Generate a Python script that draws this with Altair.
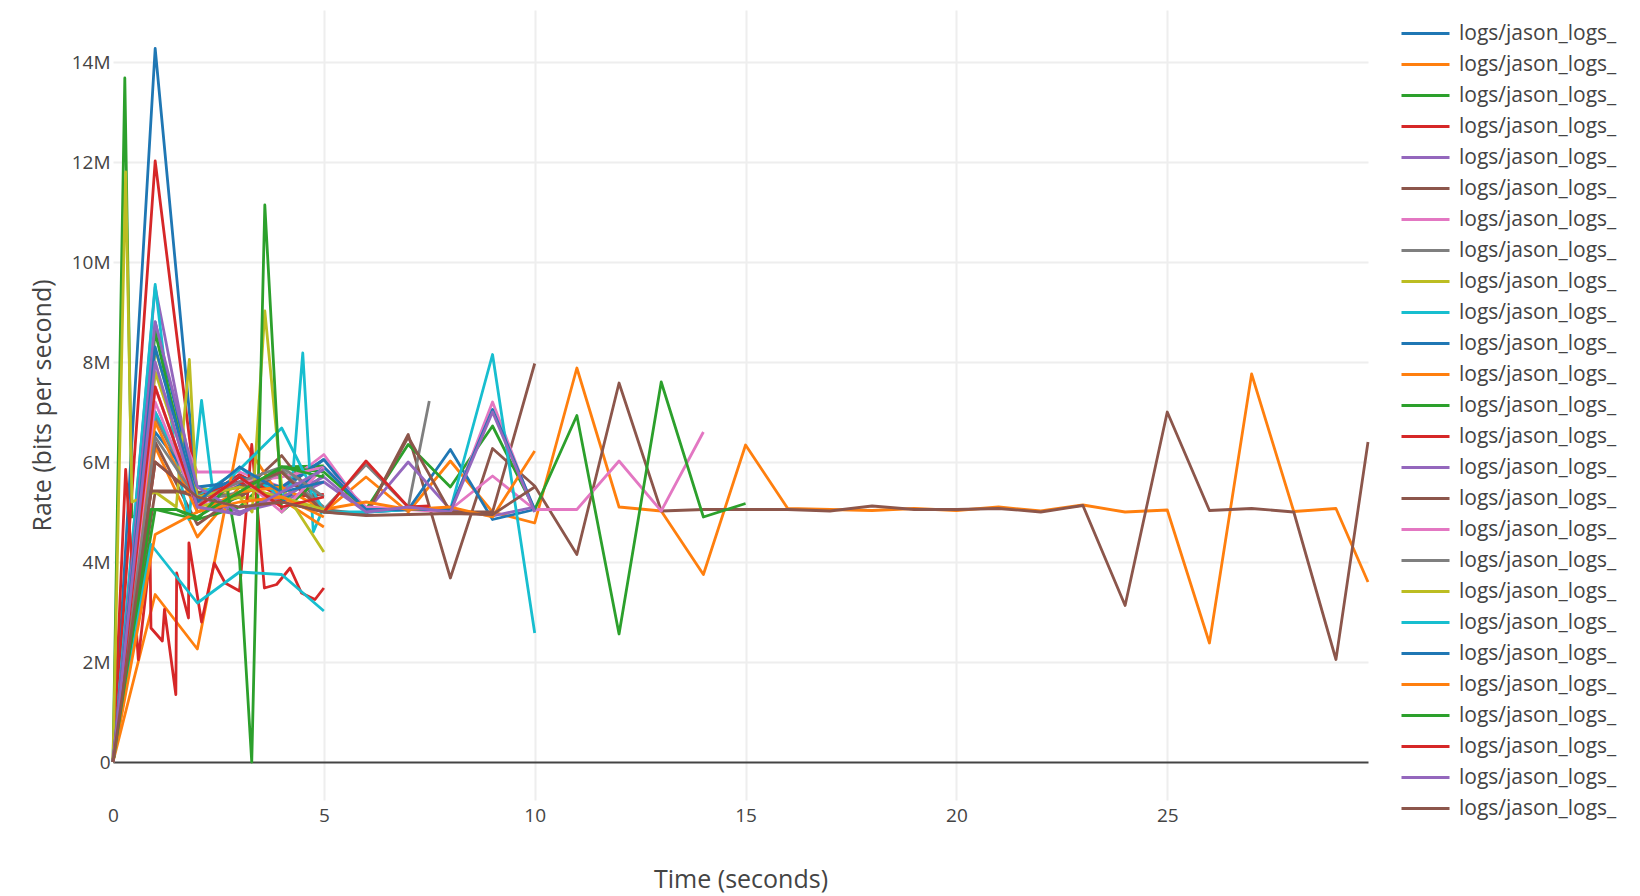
import altair as alt
import pandas as pd

# ---------------- data (rates in Mbit/s, time in seconds) ----------------
PALETTE = ["#1f77b4", "#ff7f0e", "#2ca02c", "#d62728", "#9467bd",
           "#8c564b", "#e377c2", "#7f7f7f", "#bcbd22", "#17becf"]

T5 = [0, 1, 2, 3, 4, 5]
T75 = [0, 1, 2, 3, 4, 5, 6, 7, 7.5]
T10 = [0, 1, 2, 3, 4, 5, 6, 7, 8, 9, 10]
T14 = [0, 1, 2, 3, 4, 5, 6, 7, 8, 9, 10, 11, 12, 13, 14]
T15 = [0, 1, 2, 3, 4, 5, 6, 7, 8, 9, 10, 11, 12, 13, 14, 15]
TLONG = [0, 1, 2, 3, 4, 5, 6, 7, 8, 9, 10, 11, 12, 13, 14, 15, 16, 17, 18, 19,
         20, 21, 22, 23, 24, 25, 26, 27, 28, 29, 29.76]

S00 = [0, 14.27, 5.3, 5.55, 5.45, 6.05]
S01 = [0, 6.3, 4.5, 5.5, 5.3, 5.0, 5.7, 5.0, 6.02, 5.0, 4.78, 7.88, 5.1, 5.02, 3.75, 6.34,
       5.07, 5.05, 5.03, 5.07, 5.03, 5.1, 5.02, 5.14, 5.0, 5.04, 2.38, 7.76, 5.01, 5.07, 3.6]
S02_T = [0, 0.28, 0.45, 1, 1.5, 2, 3, 4, 5]
S02 = [0, 13.68, 4.9, 5.05, 5.05, 4.85, 5.1, 5.9, 5.92]
S03 = [0, 12.02, 5.2, 5.75, 5.3, 5.35]
S04 = [0, 9.5, 5.2, 4.95, 5.5, 5.6]
S05 = [0, 6.4, 4.75, 5.35, 6.13, 5.05, 4.95, 6.55, 3.68, 6.27, 5.52, 4.15, 7.58, 5.02, 5.05, 5.05,
       5.05, 5.02, 5.12, 5.05, 5.05, 5.07, 5.0, 5.13, 3.13, 7.0, 5.03, 5.07, 5.0, 2.05, 6.4]
S06 = [0, 7.8, 5.8, 5.8, 5.5, 6.15, 5.0, 5.05, 5.05, 5.72, 5.05, 5.05, 6.02, 5.02, 6.6]
S07 = [0, 6.9, 5.35, 5.3, 5.85, 5.05, 5.95, 5.1, 7.22]
S08 = [0, 8.25, 5.5, 5.3, 5.2, 5.1]
S09_T = [0, 1, 1.5, 1.8, 2.1, 2.4, 3, 4, 4.25, 4.5, 4.75, 5]
S09 = [0, 9.55, 6.0, 4.85, 7.23, 5.2, 5.9, 5.3, 5.6, 8.18, 4.6, 5.1]
S10 = [0, 8.8, 5.3, 5.7, 5.5, 6.05, 5.0, 5.05, 6.25, 4.85, 5.05]
S11 = [0, 3.35, 2.26, 6.55, 5.25, 4.7]
S12 = [0, 8.6, 5.0, 5.3, 5.9, 5.8, 5.05, 6.35, 5.5, 6.72, 5.05, 6.93, 2.56, 7.6, 4.9, 5.17]
S13_T = [0, 0.3, 0.6, 0.88, 0.9, 1.17, 1.22, 1.49, 1.51, 1.79, 1.8, 2.1, 2.4, 2.66, 3.0,
         3.29, 3.59, 3.88, 4.2, 4.47, 4.79, 5.0]
S13 = [0, 5.85, 2.05, 4.12, 2.68, 2.42, 3.05, 1.35, 3.78, 2.88, 4.38, 2.8, 3.98, 3.58, 3.42,
       6.35, 3.48, 3.55, 3.88, 3.38, 3.25, 3.48]
S14 = [0, 7.0, 5.3, 5.0, 5.2, 5.6, 5.0, 6.0, 5.05, 4.92, 5.1]
S15 = [0, 5.4, 5.4, 5.3, 5.8, 5.0, 4.95, 6.5, 5.0, 5.0, 7.97]
S16 = [0, 7.5, 5.1, 5.6, 5.7, 5.9, 5.1, 5.05, 5.0, 7.2, 5.0]
S17 = [0, 6.9, 5.2, 5.4, 5.8, 5.1]
S18_T = [0, 0.3, 0.45, 1, 1.5, 1.81, 2, 3, 3.3, 3.6, 4, 5]
S18 = [0, 11.8, 5.2, 5.4, 5.1, 8.05, 5.1, 5.3, 5.0, 9.02, 5.5, 4.2]
S19 = [0, 7.0, 5.3, 5.85, 6.68, 5.0, 5.0, 5.05, 5.05, 8.15, 2.58]
S20 = [0, 6.6, 5.5, 5.6, 5.2, 5.9, 5.05, 5.05, 5.05, 7.05, 5.05]
S21 = [0, 6.8, 5.0, 5.4, 5.5, 5.05, 5.2, 5.05, 5.1, 4.9, 6.22]
S22_T = [0, 1, 2, 2.7, 3.0, 3.29, 3.6, 4, 5]
S22 = [0, 5.05, 4.85, 5.5, 4.05, 0, 11.14, 5.0, 5.75]
S23 = [0, 6.0, 5.3, 5.6, 5.2, 5.0, 6.02, 5.1, 5.12]
S24 = [0, 8.8, 5.5, 5.0, 5.3, 5.7, 5.0, 5.1, 5.0, 7.0, 5.0]
S25_T = [0, 0.9, 1.5, 2, 3, 4, 5]
S25 = [0, 5.42, 5.42, 5.3, 5.5, 5.8, 5.0]
S26 = [0, 7.2, 5.1, 5.7, 5.0, 5.9]
S27 = [0, 6.5, 5.25, 5.6, 5.9, 5.3]
S28 = [0, 7.8, 5.3, 5.5, 5.3, 5.05]
S29_T = [0, 0.9, 2, 3, 4, 5]
S29 = [0, 4.35, 3.18, 3.8, 3.75, 3.02]
S30 = [0, 8.3, 5.2, 5.9, 5.4, 5.6]
S31 = [0, 4.55, 5.0, 5.2, 5.3, 4.9]
S32_T = [0, 0.9, 1.5, 2, 3, 4, 5]
S32 = [0, 5.05, 5.05, 4.9, 5.4, 5.9, 5.7]
S33 = [0, 7.5, 5.1, 5.7, 5.1, 5.3]
S34 = [0, 8.0, 5.1, 4.95, 5.4, 5.85]
S35 = [0, 6.0, 5.3, 5.1, 5.2, 5.0, 4.93, 4.95, 4.97, 4.95, 5.5]

SERIES = [
    (T5, S00), (TLONG, S01), (S02_T, S02), (T5, S03), (T5, S04), (TLONG, S05),
    (T14, S06), (T75, S07), (T5, S08), (S09_T, S09), (T10, S10), (T5, S11),
    (T15, S12), (S13_T, S13), (T10, S14), (T10, S15), (T10, S16), (T5, S17),
    (S18_T, S18), (T10, S19), (T10, S20), (T10, S21), (S22_T, S22), (T75, S23),
    (T10, S24), (S25_T, S25), (T5, S26), (T5, S27), (T5, S28), (S29_T, S29),
    (T5, S30), (T5, S31), (S32_T, S32), (T5, S33), (T5, S34), (T10, S35),
]
NAMES = ["logs/jason_logs_run%02d.txt" % (i + 1) for i in range(len(SERIES))]
LEGEND_SHOWN = NAMES[:26]

rows = []
for i, (ts, vs) in enumerate(SERIES):
    for t, v in zip(ts, vs):
        rows.append({"series": NAMES[i], "t": t, "rate": v * 1e6})
df = pd.DataFrame(rows)

COLORS = [PALETTE[i % len(PALETTE)] for i in range(len(NAMES))]

FONT = "Open Sans"
TXT = "#444444"

chart = (
    alt.Chart(df)
    .mark_line(strokeWidth=2.8, strokeJoin="round")
    .encode(
        x=alt.X(
            "t:Q",
            scale=alt.Scale(domain=[0, 29.76], nice=False, zero=False),
            axis=alt.Axis(
                values=[0, 5, 10, 15, 20, 25],
                title="Time (seconds)",
                grid=True,
                gridColor="#eeeeee",
                gridWidth=2,
                gridOpacity={"condition": {"test": "datum.value === 0", "value": 0}, "value": 1},
                domain=False,
                ticks=False,
                tickSize=0,
                labelFont=FONT,
                labelFontSize=19,
                labelColor=TXT,
                labelPadding=6,
                labelFlush=False,
                titleFont=FONT,
                titleFontSize=25,
                titleFontWeight="normal",
                titleColor=TXT,
                titleX=627.5,
                titleY=87,
                titleBaseline="alphabetic",
            ),
        ),
        y=alt.Y(
            "rate:Q",
            scale=alt.Scale(domain=[-760000, 15040000], nice=False, zero=False),
            axis=alt.Axis(
                values=[0, 2e6, 4e6, 6e6, 8e6, 10e6, 12e6, 14e6],
                format="~s",
                labelExpr="datum.value === 0 ? '0' : datum.label",
                title="Rate (bits per second)",
                grid=True,
                gridColor={"condition": {"test": "datum.value === 0", "value": "#444444"}, "value": "#eeeeee"},
                gridWidth=2,
                domain=False,
                ticks=False,
                tickSize=0,
                labelFont=FONT,
                labelFontSize=19,
                labelColor=TXT,
                labelPadding=3,
                labelFlush=False,
                titleFont=FONT,
                titleFontSize=25,
                titleFontWeight="normal",
                titleColor=TXT,
                titleAngle=270,
                titleX=-71,
                titleY=395,
                titleAlign="center",
                titleBaseline="middle",
            ),
        ),
        color=alt.Color(
            "series:N",
            sort=NAMES,
            scale=alt.Scale(domain=NAMES, range=COLORS),
            legend=alt.Legend(
                title=None,
                orient="none",
                legendX=1287,
                legendY=8,
                values=LEGEND_SHOWN,
                symbolType="stroke",
                symbolSize=2304,
                symbolStrokeWidth=3,
                labelFont=FONT,
                labelFontSize=21,
                labelColor=TXT,
                labelLimit=0,
                labelOffset=8,
                labelExpr="substring(datum.label, 0, 16)",
                clipHeight=31,
                rowPadding=0,
                padding=0,
                offset=0,
            ),
        ),
    )
    .properties(
        width=1255,
        height=790,
        padding={"left": 105, "top": 2, "right": 250, "bottom": 94},
        autosize=alt.AutoSizeParams(type="none"),
        background="white",
    )
    .configure_view(stroke=None)
)

chart.save("out.html", embed_options={"renderer": "svg", "actions": False})
